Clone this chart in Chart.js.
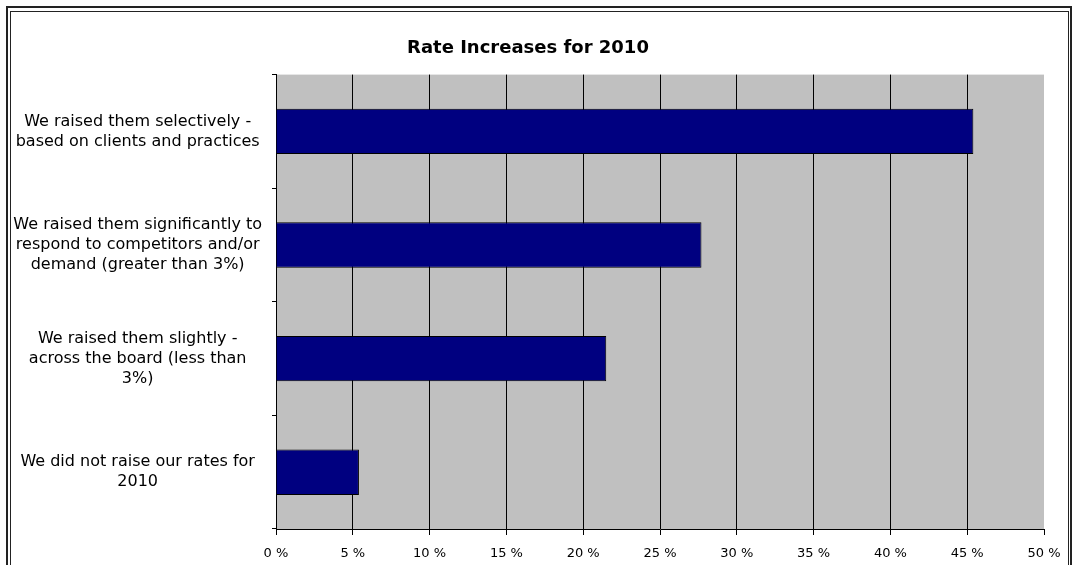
<!DOCTYPE html>
<html>
<head>
<meta charset="utf-8">
<script src="https://cdn.jsdelivr.net/npm/chart.js@4/dist/chart.umd.min.js"></script>
<style>
  html, body { margin: 0; padding: 0; background: #fff; }
  #wrap { position: relative; width: 1074px; height: 565px; overflow: hidden; }
  #outer { position: absolute; left: 6px; top: 6px; width: 1066px; height: 600px; border: 2px solid #222; box-sizing: border-box; }
  #inner { position: absolute; left: 10px; top: 11px; width: 1059px; height: 600px; border: 1px solid #222; box-sizing: border-box; }
  canvas { position: absolute; left: 0; top: 0; }
</style>
</head>
<body>
<div id="wrap">
  <canvas id="chart" width="1074" height="565"></canvas>
  <div id="outer"></div>
  <div id="inner"></div>
</div>
<script>
const categories = [
    ["We raised them selectively -", "based on clients and practices"],
    ["We raised them significantly to", "respond to competitors and/or", "demand (greater than 3%)"],
    ["We raised them slightly -", "across the board (less than", "3%)"],
    ["We did not raise our rates for", "2010"]
];
const percents = [45.4, 27.7, 21.5, 5.4];
const xTicks = [0, 5, 10, 15, 20, 25, 30, 35, 40, 45, 50];

const fontFamily = "'DejaVu Sans', Verdana, sans-serif";

// grey plot background like the old Excel charts
const plotBackground = {
    id: "plotBackground",
    beforeDraw(chart) {
        const {ctx, chartArea} = chart;
        ctx.save();
        ctx.fillStyle = "#c0c0c0";
        ctx.fillRect(chartArea.left, chartArea.top, chartArea.right - chartArea.left, chartArea.bottom - chartArea.top);
        ctx.restore();
    }
};

const ctx = document.getElementById("chart").getContext("2d");
new Chart(ctx, {
    type: "bar",
    data: {
        labels: categories,
        datasets: [{
            data: percents,
            backgroundColor: "#000080",
            borderColor: "#000000",
            borderWidth: 1,
            barPercentage: 0.4,
            categoryPercentage: 1
        }]
    },
    options: {
        indexAxis: "y",
        responsive: false,
        animation: false,
        layout: {padding: {left: 12, right: 30, top: 0, bottom: 0}},
        scales: {
            x: {
                min: 0,
                max: 50,
                afterBuildTicks(scale) {
                    scale.ticks = xTicks.map((v) => ({value: v}));
                },
                afterFit(scale) {
                    scale.height = 36;
                },
                grid: {
                    color: (c) => (c.tick && c.tick.value === 50 ? "rgba(0,0,0,0)" : "#000"),
                    tickColor: "#000",
                    tickLength: 6,
                    lineWidth: 1
                },
                border: {color: "#000", width: 1},
                ticks: {
                    padding: 11,
                    color: "#000",
                    font: {family: fontFamily, size: 13},
                    callback: (v) => v + " %"
                }
            },
            y: {
                afterFit(scale) {
                    scale.width = 264;
                },
                grid: {
                    drawOnChartArea: false,
                    tickColor: "#000",
                    tickLength: 4
                },
                border: {color: "#000", width: 1},
                ticks: {
                    padding: 10,
                    crossAlign: "center",
                    color: "#000",
                    font: {family: fontFamily, size: 16, lineHeight: 1.25}
                }
            }
        },
        plugins: {
            legend: {display: false},
            tooltip: {enabled: false},
            title: {
                display: true,
                text: "Rate Increases for 2010",
                color: "#000",
                font: {family: fontFamily, size: 18, weight: "bold"},
                padding: {top: 38, bottom: 15}
            }
        }
    },
    plugins: [plotBackground]
});
</script>
</body>
</html>
